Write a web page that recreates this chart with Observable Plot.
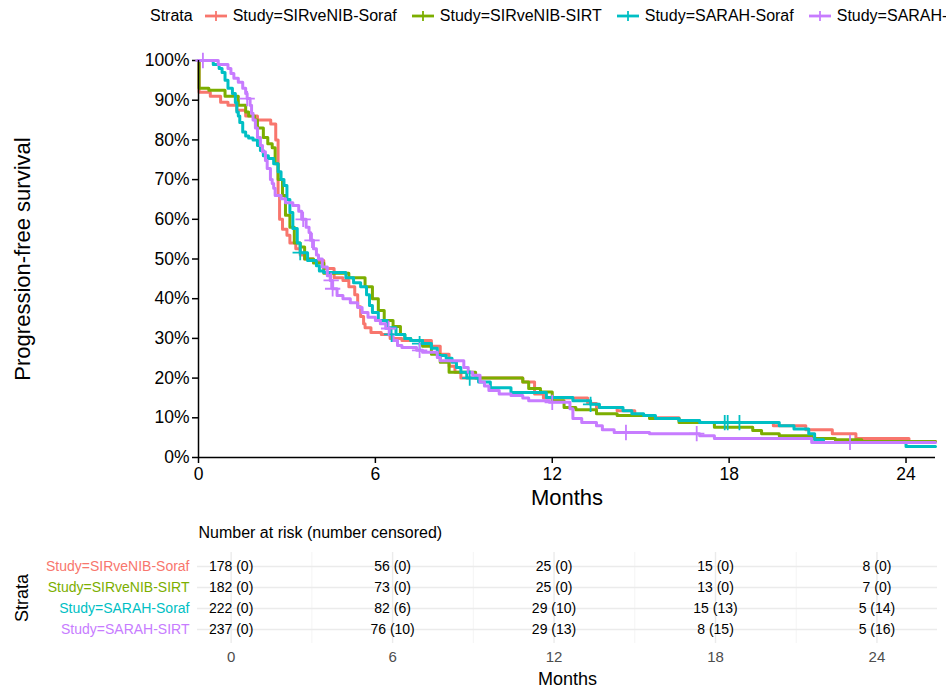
<!DOCTYPE html>
<html>
<head>
<meta charset="utf-8">
<script src="https://cdn.jsdelivr.net/npm/d3@7"></script>
<script src="https://cdn.jsdelivr.net/npm/@observablehq/plot@0.6"></script>
<style>
  body { margin: 0; background: #fff; font-family: "Liberation Sans", Arial, sans-serif; }
  #wrap { position: relative; width: 946px; height: 690px; overflow: hidden; background: #fff; }
  #legend { position: absolute; left: 150px; top: 7px; display: flex; align-items: center; white-space: nowrap; font-size: 16px; color: #000; }
  #legend .title { margin-right: 12px; }
  #legend svg { margin-right: 6px; }
  #legend .lab { margin-right: 15px; }
  #main { position: absolute; left: 0; top: 40px; }
  #risk { position: absolute; left: 0; top: 515px; }
</style>
</head>
<body>
<div id="wrap">
  <div id="legend"></div>
  <div id="main"></div>
  <div id="risk"></div>
</div>
<script>
// ---------- data ----------
const strata = ["Study=SIRveNIB-Soraf", "Study=SIRveNIB-SIRT", "Study=SARAH-Soraf", "Study=SARAH-SIRT"];
const colors = ["#F8766D", "#7CAE00", "#00BFC4", "#C77CFF"];

// [months, survival] knots of each Kaplan-Meier step curve
const sirvenibSoraf = [[0,1],[0.02,0.92],[0.4,0.91],[0.75,0.895],[1.0,0.887],[1.3,0.875],[1.6,0.86],[2.0,0.85],[2.45,0.84],[2.62,0.80],[2.7,0.66],[2.75,0.60],[2.85,0.575],[3.0,0.56],[3.1,0.54],[3.3,0.526],[3.45,0.51],[3.6,0.50],[3.9,0.496],[4.25,0.476],[4.6,0.453],[4.9,0.446],[5.1,0.43],[5.3,0.41],[5.4,0.38],[5.5,0.355],[5.6,0.337],[5.65,0.327],[5.85,0.315],[6.2,0.31],[6.5,0.30],[6.9,0.295],[7.9,0.28],[8.2,0.26],[8.5,0.23],[8.7,0.215],[8.9,0.20],[11.0,0.19],[11.4,0.16],[11.7,0.15],[13.2,0.136],[13.5,0.126],[14.2,0.118],[14.8,0.106],[15.3,0.10],[16.3,0.093],[16.7,0.088],[19.5,0.08],[20.6,0.07],[21.5,0.06],[22.3,0.048],[24.1,0.04],[25,0.04]];
const sirvenibSirt = [[0,1],[0.02,0.93],[0.35,0.925],[0.9,0.91],[1.35,0.887],[1.6,0.87],[1.7,0.86],[1.9,0.85],[2.0,0.83],[2.2,0.806],[2.35,0.79],[2.5,0.78],[2.6,0.74],[2.7,0.70],[2.85,0.66],[2.95,0.61],[3.1,0.58],[3.25,0.54],[3.45,0.53],[3.6,0.50],[3.9,0.49],[4.25,0.464],[5.1,0.453],[5.65,0.43],[5.9,0.40],[6.1,0.37],[6.3,0.345],[6.6,0.33],[6.85,0.31],[7.0,0.30],[7.2,0.295],[7.6,0.28],[7.9,0.26],[8.2,0.24],[8.5,0.215],[9.4,0.20],[11.0,0.19],[11.2,0.174],[11.6,0.165],[12.0,0.143],[12.4,0.126],[12.8,0.12],[13.5,0.11],[14.2,0.106],[15.3,0.098],[16.3,0.088],[17.5,0.076],[18.8,0.068],[19.1,0.06],[19.7,0.055],[20.8,0.048],[21.6,0.045],[22.5,0.04],[25,0.04]];
const sarahSoraf = [[0,1],[0.5,0.99],[0.7,0.98],[0.8,0.97],[0.9,0.95],[1.0,0.93],[1.15,0.917],[1.25,0.894],[1.3,0.87],[1.35,0.86],[1.4,0.844],[1.5,0.82],[1.6,0.81],[1.7,0.805],[1.85,0.80],[2.0,0.786],[2.1,0.773],[2.2,0.76],[2.37,0.753],[2.55,0.74],[2.7,0.72],[2.8,0.70],[2.9,0.685],[3.0,0.65],[3.1,0.617],[3.2,0.577],[3.35,0.54],[3.45,0.516],[3.7,0.496],[4.0,0.483],[4.1,0.47],[4.25,0.466],[5.0,0.453],[5.26,0.44],[5.5,0.43],[5.7,0.41],[5.8,0.383],[5.9,0.365],[6.1,0.345],[6.4,0.327],[6.7,0.31],[7.0,0.30],[7.2,0.295],[7.6,0.287],[7.9,0.275],[8.1,0.257],[8.4,0.25],[8.6,0.24],[8.75,0.227],[8.9,0.215],[9.1,0.20],[9.5,0.19],[9.9,0.176],[10.6,0.164],[11.8,0.151],[12.7,0.143],[13.3,0.134],[13.6,0.126],[14.4,0.118],[14.7,0.11],[15.1,0.106],[15.5,0.098],[16.3,0.093],[17.0,0.088],[19.7,0.08],[20.2,0.072],[20.7,0.06],[20.9,0.045],[21.2,0.038],[24.0,0.028],[25,0.028]];
const sarahSirt = [[0,1],[0.67,0.99],[1.0,0.98],[1.1,0.967],[1.2,0.955],[1.35,0.945],[1.5,0.93],[1.6,0.917],[1.65,0.904],[1.75,0.887],[1.8,0.867],[1.85,0.85],[1.93,0.83],[2.0,0.806],[2.1,0.786],[2.17,0.77],[2.27,0.748],[2.33,0.728],[2.44,0.70],[2.5,0.69],[2.55,0.678],[2.6,0.66],[2.8,0.652],[2.95,0.642],[3.2,0.635],[3.4,0.62],[3.5,0.60],[3.65,0.58],[3.75,0.567],[3.8,0.547],[3.9,0.526],[4.0,0.51],[4.07,0.50],[4.2,0.48],[4.37,0.458],[4.47,0.446],[4.55,0.425],[4.7,0.408],[4.9,0.40],[5.15,0.39],[5.4,0.378],[5.55,0.365],[5.75,0.353],[6.0,0.345],[6.17,0.337],[6.35,0.325],[6.5,0.31],[6.6,0.295],[6.75,0.282],[6.9,0.277],[7.4,0.27],[7.6,0.265],[8.1,0.252],[8.2,0.244],[9.0,0.227],[9.15,0.215],[9.3,0.207],[9.55,0.19],[9.7,0.18],[9.85,0.169],[10.2,0.16],[10.6,0.156],[11.0,0.15],[11.2,0.143],[11.9,0.139],[12.6,0.123],[12.7,0.098],[13.0,0.088],[13.5,0.08],[13.7,0.07],[14.1,0.063],[15.3,0.06],[17.0,0.055],[17.5,0.048],[20.8,0.038],[25,0.038]];

// censoring marks [months, survival]
const sirvenibSorafCensor = [];
const sirvenibSirtCensor = [];
const sarahSorafCensor = [[3.45,0.516],[6.55,0.31],[7.5,0.287],[9.2,0.20],[13.3,0.134],[17.85,0.088],[17.95,0.088],[18.35,0.088]];
const sarahSirtCensor = [[0.15,1.0],[1.65,0.904],[3.55,0.60],[3.85,0.547],[4.5,0.446],[4.55,0.425],[6.45,0.325],[7.5,0.27],[12.0,0.139],[14.5,0.063],[16.9,0.06],[22.1,0.038]];

// risk table
const riskTimes = [0, 6, 12, 18, 24];
const riskMinorTimes = [3, 9, 15, 21];
const sirvenibSorafRisk = [178, 56, 25, 15, 8];
const sirvenibSorafCens = [0, 0, 0, 0, 0];
const sirvenibSirtRisk = [182, 73, 25, 13, 7];
const sirvenibSirtCens = [0, 0, 0, 0, 0];
const sarahSorafRisk = [222, 82, 29, 15, 5];
const sarahSorafCens = [0, 6, 10, 13, 14];
const sarahSirtRisk = [237, 76, 29, 8, 5];
const sarahSirtCens = [0, 10, 13, 15, 16];

const yTicks = [0, 0.1, 0.2, 0.3, 0.4, 0.5, 0.6, 0.7, 0.8, 0.9, 1.0];

// ---------- tables built from the arrays ----------
const curves = [sirvenibSoraf, sirvenibSirt, sarahSoraf, sarahSirt];
const censors = [sirvenibSorafCensor, sirvenibSirtCensor, sarahSorafCensor, sarahSirtCensor];
const risks = [sirvenibSorafRisk, sirvenibSirtRisk, sarahSorafRisk, sarahSirtRisk];
const cens = [sirvenibSorafCens, sirvenibSirtCens, sarahSorafCens, sarahSirtCens];

const km = curves.flatMap((c, i) => c.map(([t, s]) => ({t, s, strata: strata[i]})));
const cz = censors.flatMap((c, i) => c.map(([t, s]) => ({t, s, strata: strata[i]})));
const riskRows = risks.flatMap((r, i) => r.map((n, j) => ({t: riskTimes[j], strata: strata[i], label: `${n} (${cens[i][j]})`})));

const FONT = '"Liberation Sans", Arial, sans-serif';

// ---------- legend ----------
const legend = document.getElementById("legend");
legend.innerHTML = `<span class="title">Strata</span>` + strata.map((s, i) =>
  `<svg width="22" height="14"><line x1="0" y1="7" x2="22" y2="7" stroke="${colors[i]}" stroke-width="2.8"/><line x1="11" y1="2" x2="11" y2="12" stroke="${colors[i]}" stroke-width="1.8"/></svg><span class="lab">${s}</span>`
).join("");

// ---------- main KM plot ----------
const main = Plot.plot({
  width: 946, height: 480,
  marginLeft: 198, marginRight: 11, marginTop: 20, marginBottom: 63,
  style: {fontFamily: FONT, fontSize: "17.5px", color: "#000", background: "transparent"},
  x: {domain: [0, 25], label: null},
  y: {domain: [0, 1], label: null},
  color: {domain: strata, range: colors},
  marks: [
    Plot.axisY({ticks: yTicks, tickFormat: d => Math.round(d * 100) + "%", tickSize: 6, tickPadding: 3, strokeWidth: 1.5, label: null, fontSize: 17.5}),
    Plot.axisX({ticks: riskTimes, tickSize: 6, tickPadding: 4, strokeWidth: 1.5, label: null, fontSize: 17.5}),
    Plot.line(km, {x: "t", y: "s", z: "strata", stroke: "strata", curve: "step-after", strokeWidth: 3}),
    Plot.dot(cz, {x: "t", y: "s", stroke: "strata", symbol: "plus", r: 5, strokeWidth: 1.8}),
    Plot.ruleX([0], {stroke: "#000", strokeWidth: 1.5}),
    Plot.ruleY([0], {stroke: "#000", strokeWidth: 1.5}),
    Plot.text(["Months"], {frameAnchor: "bottom", dy: 40, lineAnchor: "middle", fontSize: 22, fill: "#000"}),
    Plot.text(["Progression-free survival"], {frameAnchor: "left", dx: -176, rotate: -90, textAnchor: "middle", lineAnchor: "middle", fontSize: 22, fill: "#000"})
  ]
});
document.getElementById("main").appendChild(main);

// ---------- risk table ----------
const risk = Plot.plot({
  width: 946, height: 175,
  marginLeft: 197, marginRight: 9, marginTop: 37, marginBottom: 47,
  style: {fontFamily: FONT, fontSize: "14px", color: "#000", background: "transparent"},
  x: {domain: [-1.25, 26.25], label: null},
  y: {type: "point", domain: strata, padding: 0.62, label: null, axis: null},
  color: {domain: strata, range: colors},
  marks: [
    Plot.ruleX(riskMinorTimes, {stroke: "#F4F4F4", strokeWidth: 1}),
    Plot.ruleX(riskTimes, {stroke: "#EBEBEB", strokeWidth: 1.4}),
    Plot.ruleY(strata, {y: d => d, stroke: "#EBEBEB", strokeWidth: 1.4}),
    Plot.axisX({ticks: riskTimes, tickSize: 0, tickPadding: 8, fill: "#4D4D4D", fontSize: 15, label: null}),
    Plot.text(riskRows, {x: "t", y: "strata", text: "label", fill: "#000", fontSize: 14}),
    Plot.text(strata, {y: d => d, text: d => d, frameAnchor: "left", dx: -8, textAnchor: "end", fill: d => d, fontSize: 14}),
    Plot.text(["Number at risk (number censored)"], {frameAnchor: "top-left", dx: 1, dy: -20, textAnchor: "start", lineAnchor: "middle", fontSize: 16, fill: "#000"}),
    Plot.text(["Months"], {frameAnchor: "bottom", dy: 36, lineAnchor: "middle", fontSize: 18, fill: "#000"}),
    Plot.text(["Strata"], {frameAnchor: "left", dx: -175, rotate: -90, textAnchor: "middle", lineAnchor: "middle", fontSize: 18, fill: "#000"})
  ]
});
document.getElementById("risk").appendChild(risk);
</script>
</body>
</html>
